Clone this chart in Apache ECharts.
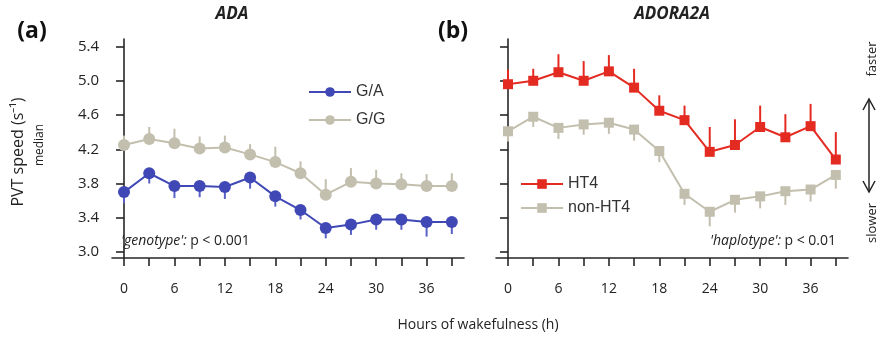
<!DOCTYPE html>
<html>
<head>
<meta charset="utf-8">
<script src="https://cdn.jsdelivr.net/npm/echarts@6/dist/echarts.min.js"></script>
<style>
  html, body { margin: 0; padding: 0; background: #fff; }
  #chart { width: 882px; height: 338px; }
</style>
</head>
<body>
<div id="chart"></div>
<script>
// Hours of wakefulness (x positions, every 3 h)
const hours = [0, 3, 6, 9, 12, 15, 18, 21, 24, 27, 30, 33, 36, 39];
const xLabelValues = [0, 6, 12, 18, 24, 30, 36];
const yTickValues = [3.0, 3.4, 3.8, 4.2, 4.6, 5.0, 5.4];

// (a) ADA genotype groups: median PVT speed and SEM
const gaSpeed = [3.70, 3.92, 3.77, 3.77, 3.76, 3.87, 3.65, 3.49, 3.28, 3.32, 3.38, 3.38, 3.35, 3.35];
const gaErr   = [0.13, 0.12, 0.14, 0.13, 0.14, 0.13, 0.12, 0.11, 0.12, 0.12, 0.12, 0.12, 0.17, 0.14];
const ggSpeed = [4.25, 4.32, 4.27, 4.21, 4.22, 4.14, 4.05, 3.92, 3.67, 3.82, 3.80, 3.79, 3.77, 3.77];
const ggErr   = [0.11, 0.14, 0.17, 0.14, 0.14, 0.12, 0.18, 0.14, 0.18, 0.16, 0.16, 0.13, 0.14, 0.15];

// (b) ADORA2A haplotype groups
const ht4Speed    = [4.96, 5.00, 5.10, 5.00, 5.11, 4.92, 4.65, 4.54, 4.17, 4.25, 4.46, 4.34, 4.47, 4.08];
const ht4Err      = [0.17, 0.14, 0.21, 0.23, 0.19, 0.22, 0.18, 0.17, 0.29, 0.30, 0.25, 0.27, 0.26, 0.32];
const nonHt4Speed = [4.41, 4.58, 4.45, 4.49, 4.51, 4.43, 4.18, 3.68, 3.47, 3.61, 3.65, 3.71, 3.73, 3.90];
const nonHt4Err   = [0.12, 0.12, 0.13, 0.12, 0.13, 0.13, 0.13, 0.13, 0.17, 0.15, 0.14, 0.16, 0.14, 0.16];

const BLUE = '#4048b6';
const BEIGE = '#c3bfae';
const RED = '#e42b22';
const AXIS = '#262626';
const FONT = '"Open Sans", sans-serif';

function xAxisFor(gridIndex) {
  return {
    type: 'value', gridIndex, min: -1.43, max: 40.45,
    splitLine: { show: false },
    axisLine: { show: true, lineStyle: { color: AXIS, width: 1.6 } },
    axisTick: { show: true, length: 8, customValues: hours, lineStyle: { color: AXIS, width: 1.6 } },
    axisLabel: { show: true, customValues: xLabelValues, margin: 24, color: '#222', fontSize: 14, fontFamily: FONT }
  };
}
function yAxisFor(gridIndex, showLabels) {
  return {
    type: 'value', gridIndex, min: 2.93, max: 5.488,
    splitLine: { show: false },
    axisLine: { show: true, lineStyle: { color: AXIS, width: 1.6 } },
    axisTick: { show: true, length: 8, customValues: yTickValues, lineStyle: { color: AXIS, width: 1.6 } },
    axisLabel: {
      show: showLabels, customValues: yTickValues, margin: 13,
      color: '#222', fontSize: 15, fontFamily: FONT,
      formatter: v => v.toFixed(1)
    }
  };
}

function lineSeries(name, gi, values, color, symbol, size) {
  return {
    type: 'line', name, xAxisIndex: gi, yAxisIndex: gi, z: 3,
    data: hours.map((h, i) => [h, values[i]]),
    symbol, symbolSize: size, showSymbol: true,
    lineStyle: { color, width: 2 },
    itemStyle: { color, opacity: 1 },
    emphasis: { disabled: true }
  };
}

// Error whiskers drawn one-sided (dir = +1 upward, -1 downward)
function errorSeries(name, gi, values, errs, dir, color) {
  return {
    type: 'custom', name, xAxisIndex: gi, yAxisIndex: gi, z: 2, silent: true,
    data: hours.map((h, i) => [h, values[i], values[i] + dir * errs[i]]),
    encode: { x: 0, y: [1, 2] },
    renderItem: (params, api) => {
      const a = api.coord([api.value(0), api.value(1)]);
      const b = api.coord([api.value(0), api.value(2)]);
      return {
        type: 'line',
        shape: { x1: a[0], y1: a[1], x2: b[0], y2: b[1] },
        style: { stroke: color, lineWidth: 2 }
      };
    }
  };
}

const legendText = { fontSize: 16, color: '#333', fontFamily: '"Liberation Sans", Arial, sans-serif' };

const option = {
  animation: false,
  backgroundColor: '#fff',
  grid: [
    { left: 112, top: 39, width: 352, height: 219 },
    { left: 496, top: 39, width: 352, height: 219 }
  ],
  xAxis: [xAxisFor(0), xAxisFor(1)],
  yAxis: [yAxisFor(0, true), yAxisFor(1, false)],
  legend: [
    {
      data: ['G/A', 'G/G'], orient: 'vertical', left: 303, top: 79,
      itemWidth: 42, itemHeight: 12, itemGap: 12, textStyle: legendText
    },
    {
      data: ['HT4', 'non-HT4'], orient: 'vertical', left: 515, top: 171,
      itemWidth: 42, itemHeight: 12, itemGap: 8, textStyle: legendText
    }
  ],
  series: [
    errorSeries('G/A sem', 0, gaSpeed, gaErr, -1, '#5a61c6'),
    errorSeries('G/G sem', 0, ggSpeed, ggErr, 1, BEIGE),
    lineSeries('G/G', 0, ggSpeed, BEIGE, 'circle', 12),
    lineSeries('G/A', 0, gaSpeed, BLUE, 'circle', 12),
    errorSeries('HT4 sem', 1, ht4Speed, ht4Err, 1, RED),
    errorSeries('non-HT4 sem', 1, nonHt4Speed, nonHt4Err, -1, BEIGE),
    lineSeries('non-HT4', 1, nonHt4Speed, BEIGE, 'rect', 10),
    lineSeries('HT4', 1, ht4Speed, RED, 'rect', 10)
  ],
  graphic: [
    // panel titles
    { type: 'text', x: 232, y: 14, style: { text: 'ADA', align: 'center', verticalAlign: 'middle', font: 'italic bold 17px "Open Sans", sans-serif', fill: '#222' } },
    { type: 'text', x: 672, y: 14, style: { text: 'ADORA2A', align: 'center', verticalAlign: 'middle', font: 'italic bold 17px "Open Sans", sans-serif', fill: '#222' } },
    { type: 'text', x: 32, y: 31, style: { text: '(a)', align: 'center', verticalAlign: 'middle', font: 'bold 23px "Open Sans", sans-serif', fill: '#111' } },
    { type: 'text', x: 453, y: 31, style: { text: '(b)', align: 'center', verticalAlign: 'middle', font: 'bold 23px "Open Sans", sans-serif', fill: '#111' } },
    // y-axis title
    { type: 'text', x: 18, y: 152, rotation: Math.PI / 2, style: { text: 'PVT speed (s⁻¹)', align: 'center', verticalAlign: 'middle', font: '16px "Open Sans", sans-serif', fill: '#222' } },
    { type: 'text', x: 40, y: 145, rotation: Math.PI / 2, style: { text: 'median', align: 'center', verticalAlign: 'middle', font: '12px "Open Sans", sans-serif', fill: '#222' } },
    // x-axis title
    { type: 'text', x: 478, y: 325, style: { text: 'Hours of wakefulness (h)', align: 'center', verticalAlign: 'middle', font: '14px "Open Sans", sans-serif', fill: '#222' } },
    // statistics notes
    { type: 'text', x: 121, y: 241, style: {
        text: '{i|\'genotype\':} {n|p < 0.001}', align: 'left', verticalAlign: 'middle',
        rich: { i: { font: 'italic 14px "Open Sans", sans-serif', fill: '#222' }, n: { font: '14px "Open Sans", sans-serif', fill: '#222' } }
    } },
    { type: 'text', x: 836, y: 241, style: {
        text: '{i|\'haplotype\':} {n|p < 0.01}', align: 'right', verticalAlign: 'middle',
        rich: { i: { font: 'italic 14px "Open Sans", sans-serif', fill: '#222' }, n: { font: '14px "Open Sans", sans-serif', fill: '#222' } }
    } },
    // direction annotation
    { type: 'text', x: 872, y: 59, rotation: Math.PI / 2, style: { text: 'faster', align: 'center', verticalAlign: 'middle', font: '13px "Open Sans", sans-serif', fill: '#222' } },
    { type: 'text', x: 872, y: 223, rotation: Math.PI / 2, style: { text: 'slower', align: 'center', verticalAlign: 'middle', font: '13px "Open Sans", sans-serif', fill: '#222' } },
    { type: 'line', shape: { x1: 869, y1: 99, x2: 869, y2: 192 }, style: { stroke: '#222', lineWidth: 1.5 } },
    { type: 'polyline', shape: { points: [[863, 110], [869, 99], [875, 110]] }, style: { stroke: '#222', lineWidth: 1.5, fill: null } },
    { type: 'polyline', shape: { points: [[863, 181], [869, 192], [875, 181]] }, style: { stroke: '#222', lineWidth: 1.5, fill: null } }
  ]
};

const chart = echarts.init(document.getElementById('chart'), null, { renderer: 'canvas' });
chart.setOption(option);
</script>
</body>
</html>
